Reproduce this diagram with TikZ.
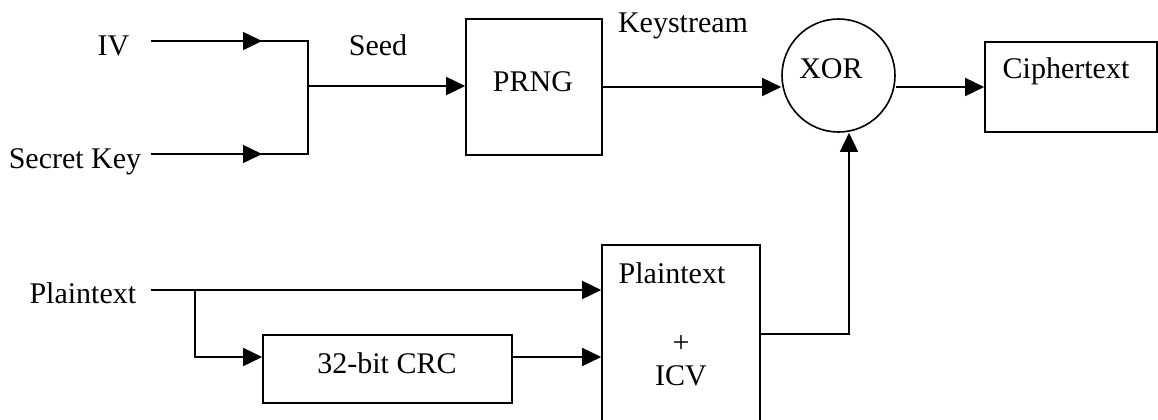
\documentclass[tikz,border=0pt]{standalone}
\usepackage{fontspec}
\setmainfont{Liberation Serif}
\usetikzlibrary{arrows.meta}

\begin{document}
\begin{tikzpicture}[x=0.5pt,y=-0.5pt,
    font=\fontsize{15}{18}\selectfont,
    line width=0.8pt,
    >={Triangle[length=9.5pt,width=9pt]},
    every node/.style={inner sep=0pt},
    blk/.style={draw,minimum width=#1},
    lbl/.style={anchor=base}]
\useasboundingbox (0,0) rectangle (1158,419);

% inputs
\node[anchor=base east] (iv) at (130,55) {IV};
\node[anchor=base east] (key) at (142,168) {Secret Key};
\node[anchor=base east] (ptxt) at (137,303) {Plaintext};
\coordinate (ivs) at (151,41);
\coordinate (keys) at (151,154);
\coordinate (ps) at (151,290);
\coordinate (join) at (308,86);
\coordinate (br) at (195,290);

% blocks
\node[blk=68pt,minimum height=68pt] (prng) at (534,87) {};
\node[draw,circle,minimum size=56.5pt] (xor) at (838.5,75.5) {};
\node[blk=86pt,minimum height=45pt] (cipher) at (1071,87) {};
\node[blk=124.5pt,minimum height=34pt] (crc) at (387.5,369) {};
\node[blk=79pt,minimum height=89pt] (icv) at (681,334) {};

% texts
\node[lbl] (seed) at (378,55) {Seed};
\node[lbl] (kstr) at (683,32) {Keystream};
\node[lbl] (prngt) at (533,91) {PRNG};
\node[lbl] (xort) at (831,78) {XOR};
\node[lbl] (ciphert) at (1066,78) {Ciphertext};
\node[lbl] (crct) at (387,373) {32-bit CRC};
\node[lbl] (icvp) at (672,283) {Plaintext};
\node[lbl] (icvplus) at (681,352) {+};
\node[lbl] (icvt) at (681,385) {ICV};

% IV and key into seed
\draw (ivs) -- (308,41) -- (308,154) -- (keys);
\draw[->] (ivs) -- +(111,0);
\draw[->] (keys) -- +(111,0);
\draw[->] (join) -- (join -| prng.west);

% keystream and output
\draw[->] (prng.east) -- (prng.east -| xor.west);
\draw[->] (cipher.west -| xor.east) -- (cipher.west);

% plaintext and icv
\draw[->] (ps) -- (ps -| icv.west);
\draw[->] (br) |- ([yshift=6pt]crc.west);
\draw[->] ([yshift=6pt]crc.east) -- ([yshift=6pt]crc.east -| icv.west);
\draw[->] (icv.east) -| ([xshift=5.25pt]xor.south);
\end{tikzpicture}
\end{document}
